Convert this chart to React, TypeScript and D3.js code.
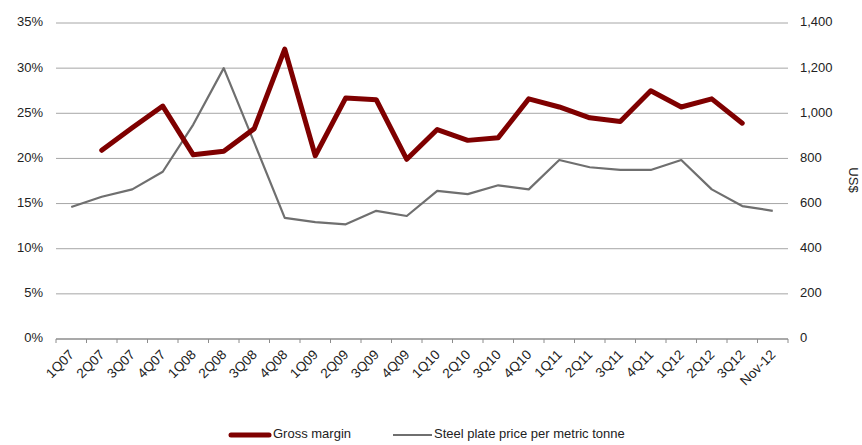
import React from "react";
import * as d3 from "d3";

const categories = [
  "1Q07", "2Q07", "3Q07", "4Q07", "1Q08", "2Q08", "3Q08", "4Q08",
  "1Q09", "2Q09", "3Q09", "4Q09", "1Q10", "2Q10", "3Q10", "4Q10",
  "1Q11", "2Q11", "3Q11", "4Q11", "1Q12", "2Q12", "3Q12", "Nov-12",
];

// Gross margin, % (no value for 1Q07 and Nov-12)
const grossMargin: (number | null)[] = [
  null, 20.9, 23.4, 25.8, 20.4, 20.8, 23.3, 32.1,
  20.3, 26.7, 26.5, 19.9, 23.2, 22.0, 22.3, 26.6,
  25.7, 24.5, 24.1, 27.5, 25.7, 26.6, 23.9, null,
];

// Steel plate price per metric tonne, US$
const steelPrice: number[] = [
  585, 630, 663, 741, 950, 1200, 870, 537,
  518, 508, 568, 545, 656, 642, 681, 663,
  793, 761, 749, 749, 793, 663, 589, 568,
];

const leftTicks = [0, 5, 10, 15, 20, 25, 30, 35];
const rightTicks = [0, 200, 400, 600, 800, 1000, 1200, 1400];

const W = 862;
const H = 445;
const margin = { left: 56, right: 74, top: 23, bottom: 106 };
const FONT = "'Liberation Sans', Arial, sans-serif";

export default function App() {
  const x = d3
    .scaleBand<string>()
    .domain(categories)
    .range([margin.left, W - margin.right])
    .paddingInner(0)
    .paddingOuter(0);
  const yL = d3.scaleLinear().domain([0, 35]).range([H - margin.bottom, margin.top]);
  const yR = d3.scaleLinear().domain([0, 1400]).range([H - margin.bottom, margin.top]);
  const cx = (c: string) => (x(c) ?? 0) + x.bandwidth() / 2;

  const gmLine = d3
    .line<number | null>()
    .defined((d) => d !== null)
    .x((_, i) => cx(categories[i]))
    .y((d) => yL(d as number));
  const steelLine = d3
    .line<number>()
    .x((_, i) => cx(categories[i]))
    .y((d) => yR(d));

  const x0 = margin.left;
  const x1 = W - margin.right;
  const yBase = yL(0);
  const boundaries = categories.map((c) => x(c) ?? 0).concat([x1]);

  return (
    <svg width={W} height={H} style={{ position: "absolute", left: 0, top: 0, background: "#fff" }}>
      {/* gridlines */}
      {leftTicks.slice(1).map((t) => (
        <line key={t} x1={x0} x2={x1} y1={yL(t)} y2={yL(t)} stroke="#a6a6a6" strokeWidth={1} />
      ))}
      {/* category axis */}
      <line x1={x0} x2={x1} y1={yBase} y2={yBase} stroke="#8c8c8c" strokeWidth={1.3} />
      {boundaries.map((b, i) => (
        <line key={i} x1={b} x2={b} y1={yBase} y2={yBase + 4} stroke="#8c8c8c" strokeWidth={1} />
      ))}
      {categories.map((c) => (
        <text
          key={c}
          transform={`translate(${cx(c) + 1},${yBase + 14}) rotate(-45)`}
          textAnchor="end"
          dominantBaseline="middle"
          fontFamily={FONT}
          fontSize={13.5}
          fill="#222"
        >
          {c}
        </text>
      ))}
      {/* left axis labels */}
      {leftTicks.map((t) => (
        <text key={t} x={43} y={yL(t)} textAnchor="end" dominantBaseline="middle" fontFamily={FONT} fontSize={13} fill="#222">
          {t}%
        </text>
      ))}
      {/* right axis labels */}
      {rightTicks.map((t) => (
        <text key={t} x={800} y={yR(t)} textAnchor="start" dominantBaseline="middle" fontFamily={FONT} fontSize={13} fill="#222">
          {d3.format(",")(t)}
        </text>
      ))}
      <text
        transform={`translate(852,180) rotate(90)`}
        textAnchor="middle"
        dominantBaseline="middle"
        fontFamily={FONT}
        fontSize={13}
        fill="#222"
      >
        US$
      </text>
      {/* series */}
      <path d={steelLine(steelPrice) ?? ""} fill="none" stroke="#6f6f6f" strokeWidth={2.2} strokeLinejoin="round" />
      <path d={gmLine(grossMargin) ?? ""} fill="none" stroke="#7f0000" strokeWidth={5} strokeLinejoin="round" strokeLinecap="round" />
      {/* legend */}
      <line x1={231} x2={269} y1={435} y2={435} stroke="#7f0000" strokeWidth={5} strokeLinecap="round" />
      <text x={273} y={435} dominantBaseline="middle" fontFamily={FONT} fontSize={13} fill="#222">
        Gross margin
      </text>
      <line x1={393} x2={432} y1={435} y2={435} stroke="#6f6f6f" strokeWidth={2.2} />
      <text x={434} y={435} dominantBaseline="middle" fontFamily={FONT} fontSize={13} fill="#222">
        Steel plate price per metric tonne
      </text>
    </svg>
  );
}
